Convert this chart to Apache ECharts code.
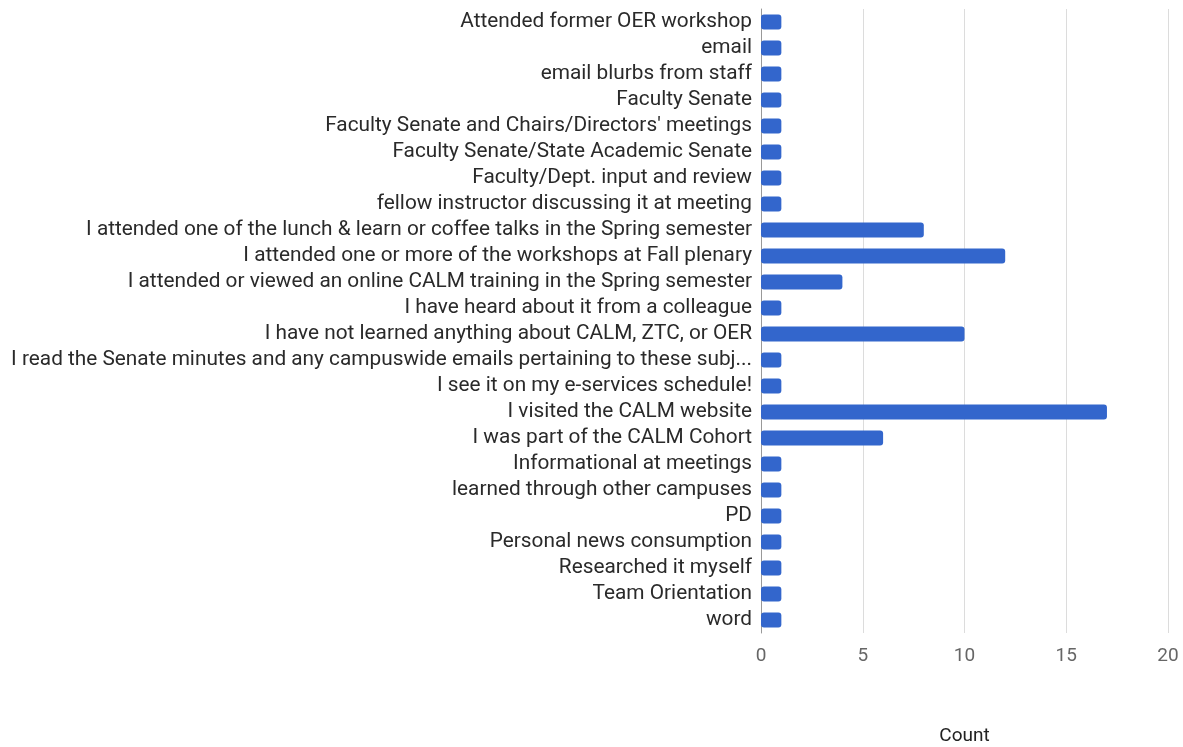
<!DOCTYPE html>
<html>
<head>
<meta charset="utf-8">
<script src="https://cdn.jsdelivr.net/npm/echarts@6/dist/echarts.min.js"></script>
<style>
  html, body { margin: 0; padding: 0; background: #fff; }
  #chart { width: 1183px; height: 747px; }
</style>
</head>
<body>
<div id="chart"></div>
<script>
// Survey responses: how respondents learned about CALM / ZTC / OER
const categories = [
  "Attended former OER workshop",
  "email",
  "email blurbs from staff",
  "Faculty Senate",
  "Faculty Senate and Chairs/Directors' meetings",
  "Faculty Senate/State Academic Senate",
  "Faculty/Dept. input and review",
  "fellow instructor discussing it at meeting",
  "I attended one of the lunch & learn or coffee talks in the Spring semester",
  "I attended one or more of the workshops at Fall plenary",
  "I attended or viewed an online CALM training in the Spring semester",
  "I have heard about it from a colleague",
  "I have not learned anything about CALM, ZTC, or OER",
  "I read the Senate minutes and any campuswide emails pertaining to these subj...",
  "I see it on my e-services schedule!",
  "I visited the CALM website",
  "I was part of the CALM Cohort",
  "Informational at meetings",
  "learned through other campuses",
  "PD",
  "Personal news consumption",
  "Researched it myself",
  "Team Orientation",
  "word"
];
const counts = [1, 1, 1, 1, 1, 1, 1, 1, 8, 12, 4, 1, 10, 1, 1, 17, 6, 1, 1, 1, 1, 1, 1, 1];
const xTicks = { min: 0, max: 20, interval: 5 };
const xTitle = "Count";

const chart = echarts.init(document.getElementById('chart'), null, { renderer: 'canvas' });
chart.setOption({
  animation: false,
  textStyle: { fontFamily: 'Roboto, Arial, sans-serif' },
  grid: { left: 761, right: 15, top: 9, bottom: 114, containLabel: false, outerBoundsMode: 'none' },
  xAxis: {
    type: 'value',
    min: xTicks.min,
    max: xTicks.max,
    interval: xTicks.interval,
    name: xTitle,
    nameLocation: 'middle',
    nameGap: 94,
    nameTextStyle: { color: '#222', fontSize: 19 },
    axisLine: { show: false },
    axisTick: { show: false },
    axisLabel: { color: '#666', fontSize: 19, margin: 14 },
    splitLine: { show: true, lineStyle: { color: '#dcdcdc', width: 1 } }
  },
  yAxis: {
    type: 'category',
    data: categories,
    inverse: true,
    axisLine: { show: true, lineStyle: { color: '#999', width: 1 } },
    axisTick: { show: false },
    axisLabel: { color: '#2a2a2a', fontSize: 20.8, margin: 9, interval: 0, hideOverlap: false },
    splitLine: { show: false }
  },
  series: [{
    type: 'bar',
    data: counts,
    barWidth: 15,
    itemStyle: { color: '#3366cc', borderRadius: 3 }
  }]
});
</script>
</body>
</html>
